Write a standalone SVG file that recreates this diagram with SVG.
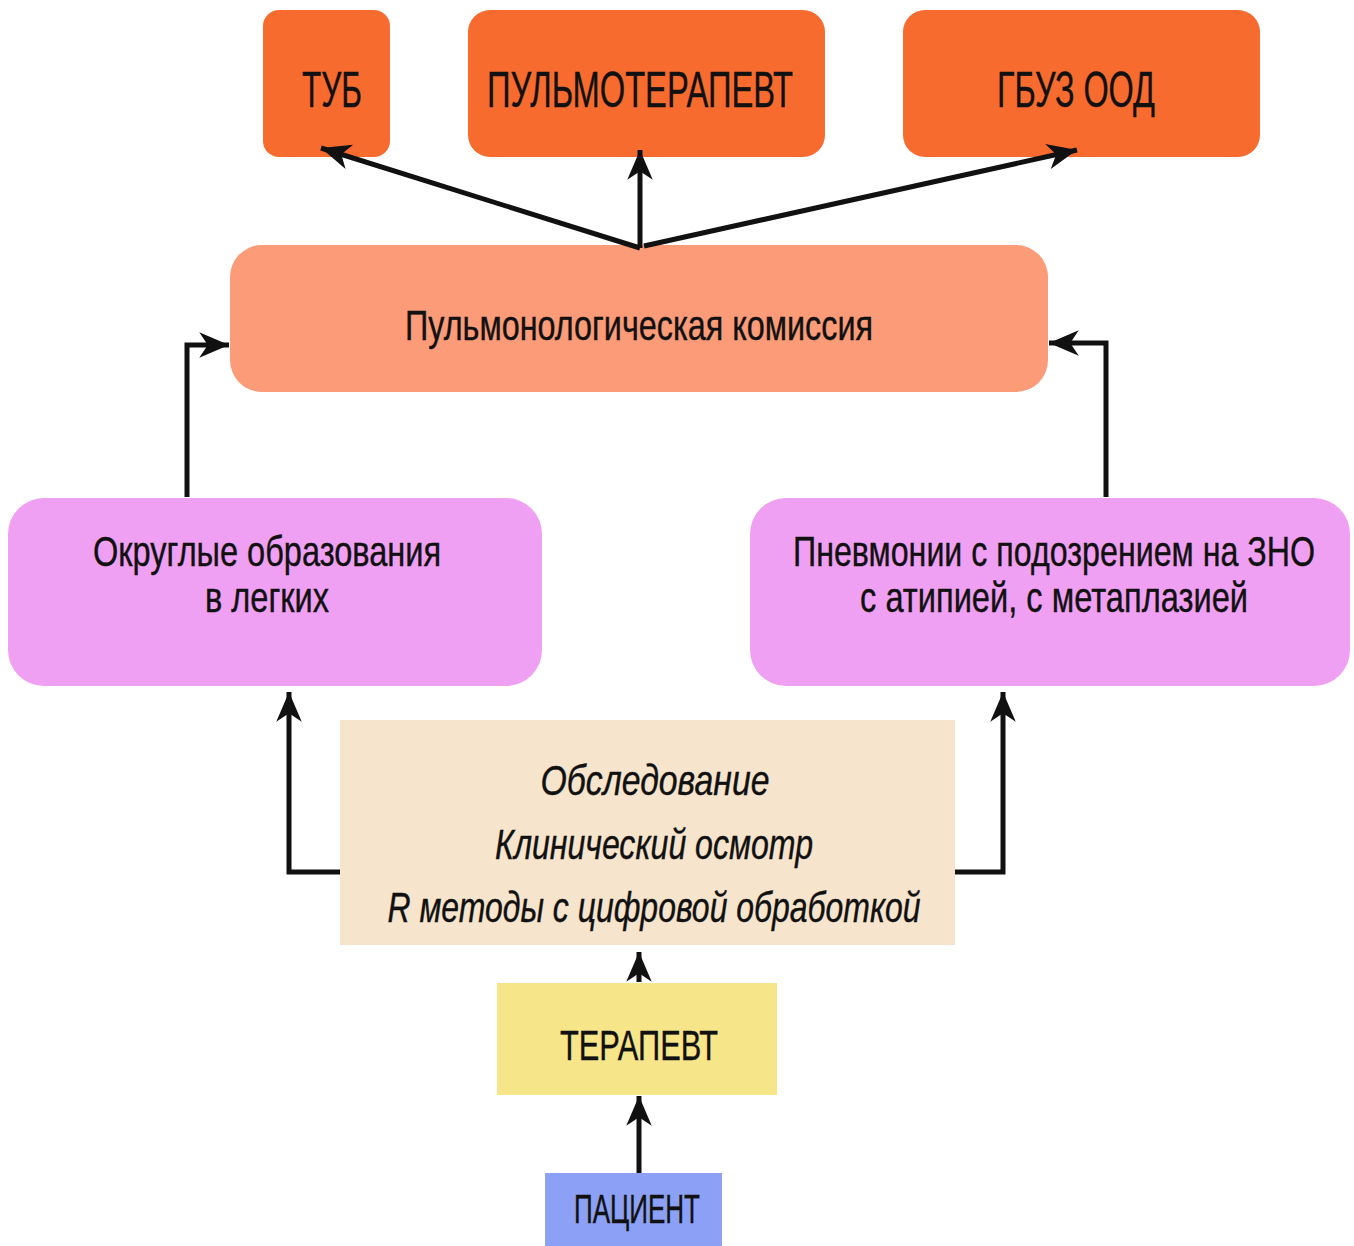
<svg xmlns="http://www.w3.org/2000/svg" width="1354" height="1246" viewBox="0 0 1354 1246">
<style>
.t{font-family:"Liberation Sans",Arial,sans-serif;fill:#111;text-anchor:middle;stroke:#111;stroke-width:0.4}
.i{font-style:italic}
.top{fill:#F86B2F}
.ln{fill:none;stroke:#111;stroke-width:5;marker-end:url(#ah)}
</style>
<defs>
<marker id="ah" markerUnits="userSpaceOnUse" markerWidth="34" markerHeight="34" viewBox="-30 -15 32 30" refX="0" refY="0" orient="auto">
<path d="M0,0 L-28,-12 L-20,0 L-28,12 Z" fill="#111"/>
</marker>
</defs>
<rect width="1354" height="1246" fill="#fff"/>
<g id="tub"><rect class="top" x="263" y="10" width="127" height="147" rx="16"/><text class="t" x="332" y="107" font-size="50" textLength="60" lengthAdjust="spacingAndGlyphs">ТУБ</text></g>
<g id="pulmo"><rect class="top" x="468" y="10" width="357" height="147" rx="22"/><text class="t" x="640" y="107" font-size="50" textLength="306" lengthAdjust="spacingAndGlyphs">ПУЛЬМОТЕРАПЕВТ</text></g>
<g id="gbuz"><rect class="top" x="903" y="10" width="357" height="147" rx="22"/><text class="t" x="1076" y="107" font-size="50" textLength="158" lengthAdjust="spacingAndGlyphs">ГБУЗ ООД</text></g>
<g id="komissiya"><rect x="230" y="245" width="818" height="147" rx="32" fill="#FB9B78"/><text class="t" x="639" y="340" font-size="42" textLength="468" lengthAdjust="spacingAndGlyphs">Пульмонологическая комиссия</text></g>
<g id="okrugl"><rect x="8" y="498" width="534" height="188" rx="36" fill="#F0A0F2"/><text class="t" x="267" y="566" font-size="42" textLength="348" lengthAdjust="spacingAndGlyphs">Округлые образования</text><text class="t" x="267" y="612" font-size="42" textLength="124" lengthAdjust="spacingAndGlyphs">в легких</text></g>
<g id="pnevm"><rect x="750" y="498" width="600" height="188" rx="36" fill="#F0A0F2"/><text class="t" x="1054" y="566" font-size="42" textLength="522" lengthAdjust="spacingAndGlyphs">Пневмонии с подозрением на ЗНО</text><text class="t" x="1054" y="612" font-size="42" textLength="388" lengthAdjust="spacingAndGlyphs">с атипией, с метаплазией</text></g>
<g id="obsled"><rect x="340" y="720" width="615" height="225" fill="#F7E4CC"/><text class="t i" x="655" y="795" font-size="42" textLength="229" lengthAdjust="spacingAndGlyphs">Обследование</text><text class="t i" x="654" y="859" font-size="42" textLength="318" lengthAdjust="spacingAndGlyphs">Клинический осмотр</text><text class="t i" x="654" y="922" font-size="42" textLength="533" lengthAdjust="spacingAndGlyphs">R методы с цифровой обработкой</text></g>
<g id="terapevt"><rect x="497" y="983" width="280" height="112" fill="#F7E58A"/><text class="t" x="639" y="1060" font-size="42" textLength="158" lengthAdjust="spacingAndGlyphs">ТЕРАПЕВТ</text></g>
<g id="pacient"><rect x="545" y="1173" width="177" height="73" fill="#8CA0F5"/><text class="t" x="637" y="1223" font-size="40" textLength="126" lengthAdjust="spacingAndGlyphs">ПАЦИЕНТ</text></g>
<g id="connectors">
<path class="ln" d="M640,248 L321,148"/>
<path class="ln" d="M640,248 L640,150"/>
<path class="ln" d="M644,246 L1077,150"/>
<path class="ln" d="M187,497 L187,345 L229,345"/>
<path class="ln" d="M1106,497 L1106,343 L1049,343"/>
<path class="ln" d="M340,872 L289,872 L289,692"/>
<path class="ln" d="M955,872 L1003,872 L1003,692"/>
<path class="ln" d="M639,982 L639,952"/>
<path class="ln" d="M639,1173 L639,1096"/>
</g>
</svg>
